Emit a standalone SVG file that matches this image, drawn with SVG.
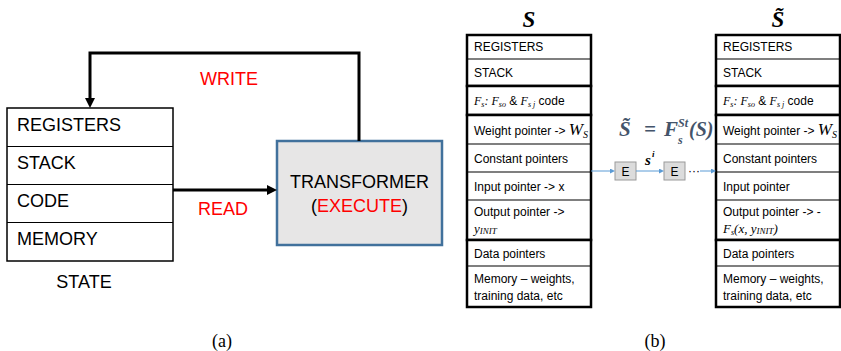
<svg xmlns="http://www.w3.org/2000/svg" width="841" height="351" viewBox="0 0 841 351">
<style>
.sans{font-family:"Liberation Sans",Arial,sans-serif;fill:#000}
.l18{font-size:18px}
.t12{font-size:12px}
.red{fill:#ff0000}
.m{font-family:"Liberation Serif","Times New Roman",serif;font-style:italic}
.cap{font-family:"Liberation Serif","Times New Roman",serif;font-size:18px;fill:#000}
.grp{fill:#fff;stroke:#000;stroke-width:2.5}
.thin{stroke:#000;stroke-width:1.2}
.cell{fill:#fff;stroke:#000;stroke-width:1.5}
.eq{font-family:"Liberation Serif","Times New Roman",serif;font-weight:bold;font-style:italic;fill:#44546a}
.hd{font-family:"Liberation Serif","Times New Roman",serif;font-weight:bold;font-style:italic;font-size:23px;fill:#000}
.ebox{fill:#dcdcdc;stroke:#9a9a9a;stroke-width:1}
.blue{stroke:#5b9bd5;stroke-width:1;fill:none}
.blk{stroke:#000;stroke-width:3;fill:none}
</style>
<defs>
<marker id="ah" viewBox="0 0 10 10" refX="0" refY="5" markerWidth="10" markerHeight="10" markerUnits="userSpaceOnUse" orient="auto">
<path d="M0,0 L10,5 L0,10 z" fill="#000"/>
</marker>
<marker id="bh" viewBox="0 0 10 10" refX="0" refY="5" markerWidth="5" markerHeight="5" markerUnits="userSpaceOnUse" orient="auto">
<path d="M0,0 L10,5 L0,10 z" fill="#5b9bd5"/>
</marker>
</defs>

<!-- (a) -->
<g id="state">
<rect class="cell" x="7" y="108" width="166" height="153"/>
<line class="thin" x1="7" y1="146.5" x2="173" y2="146.5"/>
<line class="thin" x1="7" y1="184.5" x2="173" y2="184.5"/>
<line class="thin" x1="7" y1="222.5" x2="173" y2="222.5"/>
<text class="sans l18" x="17" y="131">REGISTERS</text>
<text class="sans l18" x="17" y="169">STACK</text>
<text class="sans l18" x="17" y="207">CODE</text>
<text class="sans l18" x="17" y="245">MEMORY</text>
<text class="sans l18" x="84" y="288" text-anchor="middle">STATE</text>
</g>
<g id="transformer">
<rect x="277" y="141" width="165" height="104" fill="#e7e6e6" stroke="#41719c" stroke-width="2.5"/>
<text class="sans l18" x="359.5" y="188" text-anchor="middle">TRANSFORMER</text>
<text class="sans l18" x="359.5" y="212" text-anchor="middle">(<tspan class="red">EXECUTE</tspan>)</text>
</g>
<g id="connectors-a">
<path class="blk" d="M359,141 V53 H90 V98" marker-end="url(#ah)"/>
<path class="blk" d="M173,190 H267" marker-end="url(#ah)"/>
<text class="sans l18 red" x="229" y="85" text-anchor="middle">WRITE</text>
<text class="sans l18 red" x="223" y="215" text-anchor="middle">READ</text>
</g>
<text class="cap" x="222" y="347" text-anchor="middle">(a)</text>

<!-- (b) -->
<g id="state-s">
<text class="hd" x="529" y="27" text-anchor="middle">S</text>
<rect class="grp" x="467" y="35" width="124" height="51"/>
<line class="thin" x1="467" y1="59" x2="591" y2="59"/>
<rect class="grp" x="467" y="86" width="124" height="29"/>
<rect class="grp" x="467" y="115" width="124" height="125"/>
<line class="thin" x1="467" y1="144" x2="591" y2="144"/>
<line class="thin" x1="467" y1="172" x2="591" y2="172"/>
<line class="thin" x1="467" y1="200" x2="591" y2="200"/>
<rect class="grp" x="467" y="240" width="124" height="67"/>
<line class="thin" x1="467" y1="266" x2="591" y2="266"/>
<text class="sans t12" x="474" y="51">REGISTERS</text>
<text class="sans t12" x="474" y="77">STACK</text>
<text class="sans t12" x="474" y="105"><tspan class="m">F</tspan><tspan class="m" font-size="8" dy="2">s</tspan><tspan class="m" dy="-2">: F</tspan><tspan class="m" font-size="8" dy="2">so</tspan><tspan dy="-2"> &amp; </tspan><tspan class="m">F</tspan><tspan class="m" font-size="8" dy="2">s j</tspan><tspan dy="-2"> code</tspan></text>
<text class="sans t12" x="474" y="135">Weight pointer -&gt; <tspan class="m" font-size="17">W</tspan><tspan class="m" font-size="10" dy="3">S</tspan></text>
<text class="sans t12" x="474" y="163">Constant pointers</text>
<text class="sans t12" x="474" y="191">Input pointer -&gt; x</text>
<text class="sans t12" x="474" y="216">Output pointer -&gt;</text>
<text class="sans t12" x="474" y="233"><tspan class="m" font-size="13">y</tspan><tspan class="m" font-size="9" dy="1">INIT</tspan></text>
<text class="sans t12" x="474" y="258">Data pointers</text>
<text class="sans t12" x="474" y="283">Memory – weights,</text>
<text class="sans t12" x="474" y="300">training data, etc</text>
</g>

<g id="state-s-tilde">
<text class="hd" x="778" y="27" text-anchor="middle">S̃</text>
<rect class="grp" x="716" y="35" width="124" height="51"/>
<line class="thin" x1="716" y1="59" x2="840" y2="59"/>
<rect class="grp" x="716" y="86" width="124" height="29"/>
<rect class="grp" x="716" y="115" width="124" height="125"/>
<line class="thin" x1="716" y1="144" x2="840" y2="144"/>
<line class="thin" x1="716" y1="172" x2="840" y2="172"/>
<line class="thin" x1="716" y1="200" x2="840" y2="200"/>
<rect class="grp" x="716" y="240" width="124" height="67"/>
<line class="thin" x1="716" y1="266" x2="840" y2="266"/>
<text class="sans t12" x="723" y="51">REGISTERS</text>
<text class="sans t12" x="723" y="77">STACK</text>
<text class="sans t12" x="723" y="105"><tspan class="m">F</tspan><tspan class="m" font-size="8" dy="2">s</tspan><tspan class="m" dy="-2">: F</tspan><tspan class="m" font-size="8" dy="2">so</tspan><tspan dy="-2"> &amp; </tspan><tspan class="m">F</tspan><tspan class="m" font-size="8" dy="2">s j</tspan><tspan dy="-2"> code</tspan></text>
<text class="sans t12" x="723" y="135">Weight pointer -&gt; <tspan class="m" font-size="17">W</tspan><tspan class="m" font-size="10" dy="3">S</tspan></text>
<text class="sans t12" x="723" y="163">Constant pointers</text>
<text class="sans t12" x="723" y="191">Input pointer</text>
<text class="sans t12" x="723" y="216">Output pointer -&gt; -</text>
<text class="sans t12" x="723" y="233"><tspan class="m" font-size="13">F</tspan><tspan class="m" font-size="8" dy="2">s</tspan><tspan class="m" font-size="13" dy="-2">(x, y</tspan><tspan class="m" font-size="9" dy="1">INIT</tspan><tspan class="m" font-size="13" dy="-1">)</tspan></text>
<text class="sans t12" x="723" y="258">Data pointers</text>
<text class="sans t12" x="723" y="283">Memory – weights,</text>
<text class="sans t12" x="723" y="300">training data, etc</text>
</g>

<g id="equation">
<text class="eq" x="619" y="136" font-size="21">S̃</text>
<text class="eq" x="644" y="136" font-size="21" font-style="normal">=</text>
<text class="eq" x="664" y="136" font-size="21">F</text>
<text class="eq" x="678" y="127" font-size="12">St</text>
<text class="eq" x="678" y="144" font-size="12">s</text>
<text class="eq" x="689" y="136" font-size="20" font-style="normal">(<tspan font-style="italic">S</tspan>)</text>
</g>

<g id="e1">
<rect class="ebox" x="615" y="162" width="21" height="18"/>
<text class="sans t12" x="625.5" y="175.5" text-anchor="middle">E</text>
</g>
<g id="e2">
<rect class="ebox" x="664" y="162" width="21" height="18"/>
<text class="sans t12" x="674.5" y="175.5" text-anchor="middle">E</text>
</g>

<g id="connectors-b">
<line class="blue" x1="591" y1="171" x2="610" y2="171" marker-end="url(#bh)"/>
<line class="blue" x1="636" y1="171" x2="659" y2="171" marker-end="url(#bh)"/>
<line class="blue" x1="700" y1="171" x2="711" y2="171" marker-end="url(#bh)"/>
<text class="sans t12" x="688" y="175">···</text>
<text class="eq" x="645" y="165" font-size="15" style="fill:#000">s</text>
<text class="eq" x="652" y="157" font-size="9" style="fill:#000">i</text>
</g>
<text class="cap" x="655" y="347" text-anchor="middle">(b)</text>
</svg>
